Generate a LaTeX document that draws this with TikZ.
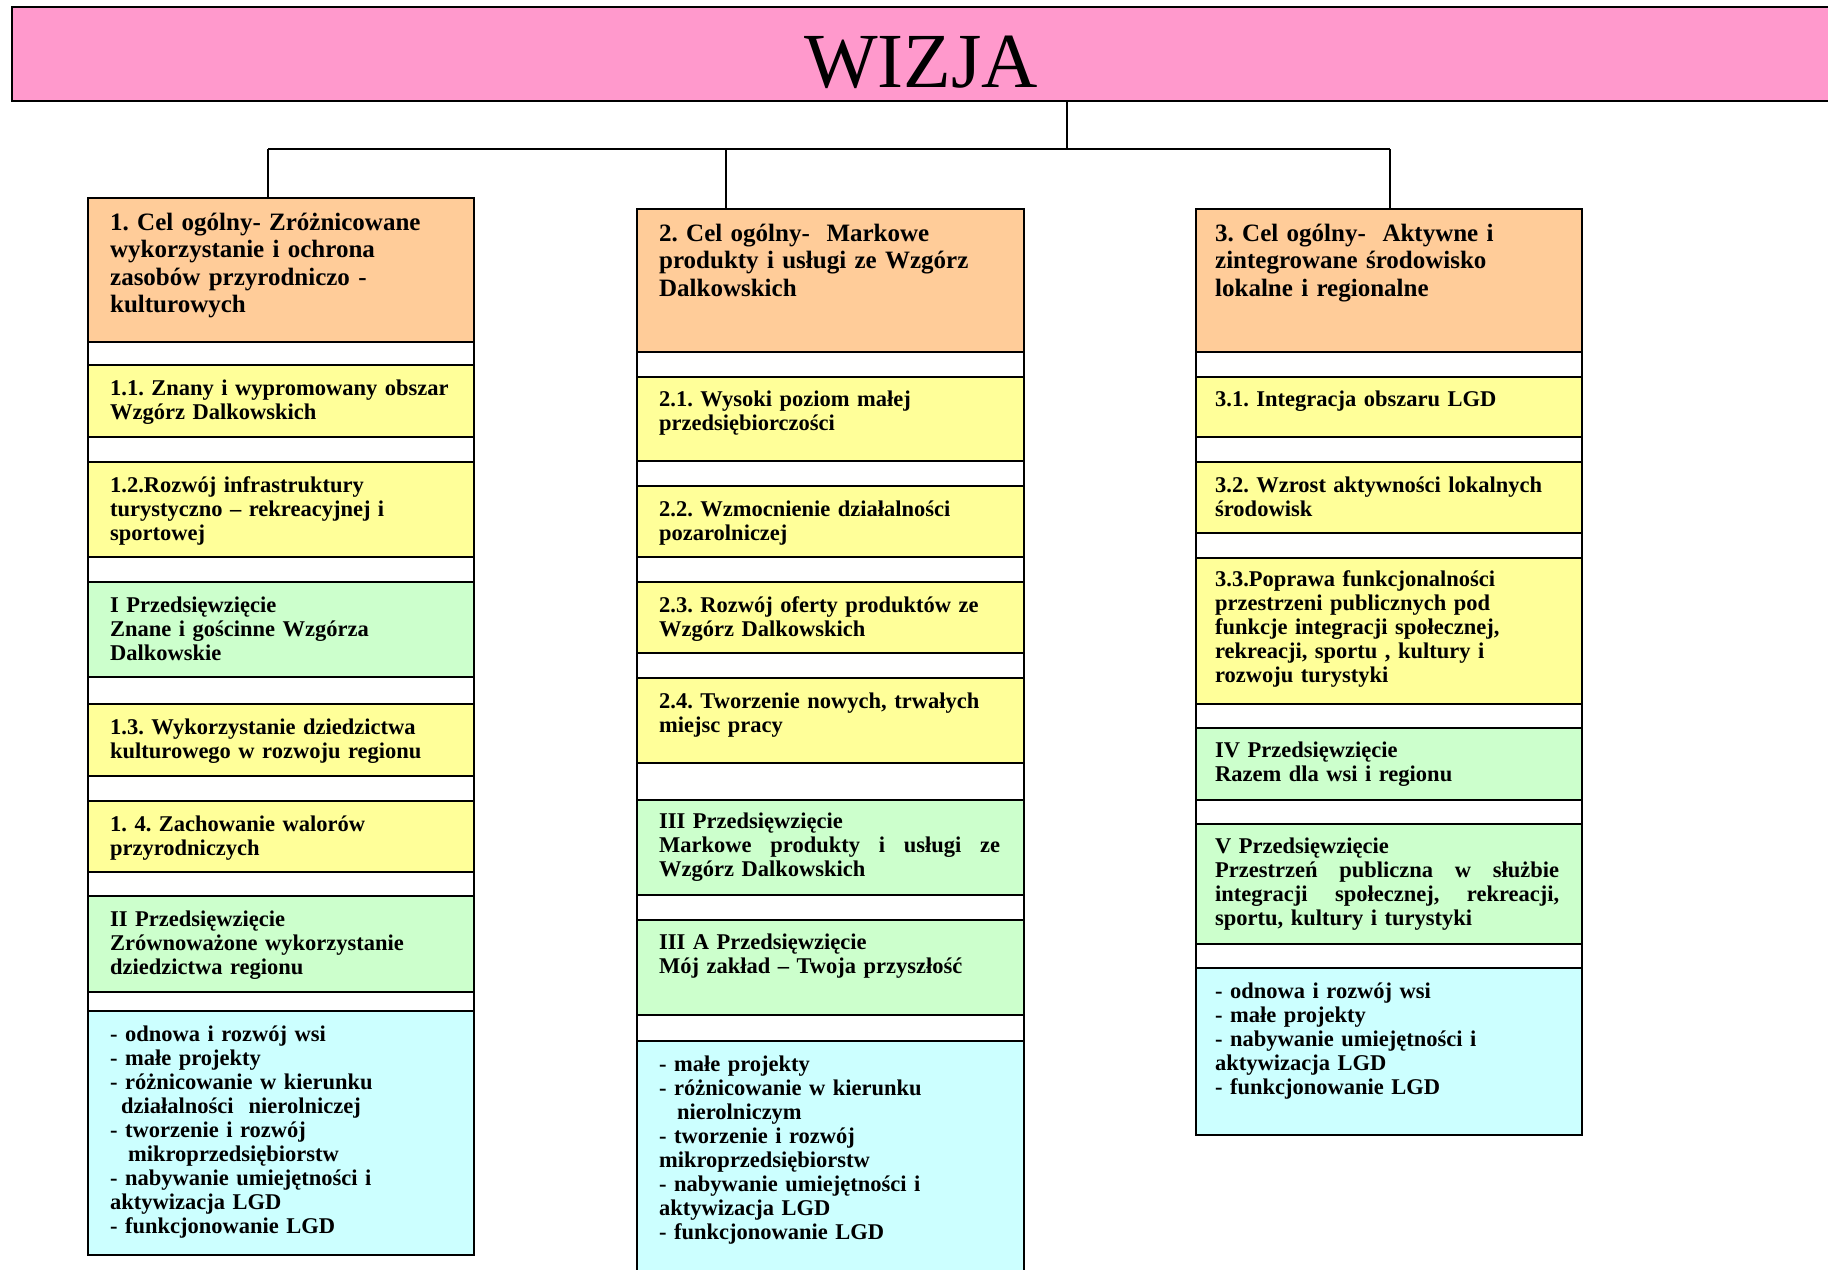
\documentclass[tikz,border=0pt]{standalone}
\usepackage{fontspec}
\setmainfont{Liberation Serif}
\usetikzlibrary{fit,calc}
\definecolor{pinkc}{HTML}{FF99CC}
\definecolor{orangec}{HTML}{FFCC99}
\definecolor{yellowc}{HTML}{FFFF99}
\definecolor{greenc}{HTML}{CCFFCC}
\definecolor{cyanc}{HTML}{CCFFFF}
\newcommand\hdfont{\fontsize{12.5}{13.7}\selectfont\bfseries\frenchspacing}
\newcommand\subfont{\fontsize{11.25}{12}\selectfont\bfseries\frenchspacing}
\newcommand\jline[2]{\makebox[#1][l]{#2}}
\begin{document}
\begin{tikzpicture}[x=0.5pt,y=-0.5pt,
  frame/.style={draw, line width=1.25pt, inner sep=0pt, fill=white},
  bx/.style={draw, line width=1.25pt, inner sep=0pt},
  conn/.style={line width=1.1pt},
  txt/.style={anchor=base west, inner sep=0pt, text width=190pt, align=left, font=\subfont},
  hdt/.style={txt, font=\hdfont}]

\useasboundingbox (0,0) rectangle (1828,1270);

% vision
\node[bx, fill=pinkc, fit={(12,7) (1850,101)}] (wizja) {};
\node[anchor=base, inner sep=0pt, font=\fontsize{39}{39}\selectfont] (wizjat) at (921,87) {WIZJA};

% column frames
\node[frame, fit={(88,198) (474,1255)}] (col1) {};
\node[frame, fit={(637,209) (1024,1300)}] (col2) {};
\node[frame, fit={(1196,209) (1582,1135)}] (col3) {};

% connectors
\coordinate (bus) at (1067,149);
\coordinate (bus1) at (268,149);
\coordinate (bus2) at (726,149);
\coordinate (bus3) at (1390,149);
\draw[conn] (wizja.south -| bus) -- (bus);
\draw[conn] (bus1) -- (bus3);
\draw[conn] (bus1) -- (bus1 |- col1.north);
\draw[conn] (bus2) -- (bus2 |- col2.north);
\draw[conn] (bus3) -- (bus3 |- col3.north);

% ---------- column 1 ----------
\node[bx, fill=orangec, fit={(88,198) (474,342)}] (h1) {};
\node[bx, fill=yellowc, fit={(88,365) (474,437)}] (b11) {};
\node[bx, fill=yellowc, fit={(88,462) (474,557)}] (b12) {};
\node[bx, fill=greenc,  fit={(88,582) (474,677)}] (bI) {};
\node[bx, fill=yellowc, fit={(88,704) (474,776)}] (b13) {};
\node[bx, fill=yellowc, fit={(88,801) (474,872)}] (b14) {};
\node[bx, fill=greenc,  fit={(88,896) (474,992)}] (bII) {};
\node[bx, fill=cyanc,   fit={(88,1011) (474,1255)}] (c1) {};

\node[hdt] (h1t) at ([xshift=11.5pt,yshift=-16.75pt]h1.north west)
  {1. Cel ogólny- Zróżnicowane\\wykorzystanie i ochrona\\zasobów przyrodniczo -\\kulturowych};
\node[txt] (b11t) at ([xshift=11.5pt,yshift=-16pt]b11.north west)
  {1.1. Znany i wypromowany obszar\\Wzgórz Dalkowskich};
\node[txt] (b12t) at ([xshift=11.5pt,yshift=-16pt]b12.north west)
  {1.2.Rozwój infrastruktury\\turystyczno – rekreacyjnej i\\sportowej};
\node[txt] (bIt) at ([xshift=11.5pt,yshift=-16pt]bI.north west)
  {I Przedsięwzięcie\\Znane i gościnne Wzgórza\\Dalkowskie};
\node[txt] (b13t) at ([xshift=11.5pt,yshift=-16pt]b13.north west)
  {1.3. Wykorzystanie dziedzictwa\\kulturowego w rozwoju regionu};
\node[txt] (b14t) at ([xshift=11.5pt,yshift=-16pt]b14.north west)
  {1. 4. Zachowanie walorów\\przyrodniczych};
\node[txt] (bIIt) at ([xshift=11.5pt,yshift=-16pt]bII.north west)
  {II Przedsięwzięcie\\Zrównoważone wykorzystanie\\dziedzictwa regionu};
\node[txt] (c1t) at ([xshift=11.5pt,yshift=-16pt]c1.north west)
  {- odnowa i rozwój wsi\\- małe projekty\\- różnicowanie w kierunku\\\hspace*{5.5pt}działalności\ \ nierolniczej\\- tworzenie i rozwój\\\hspace*{9pt}mikroprzedsiębiorstw\\- nabywanie umiejętności i\\aktywizacja LGD\\- funkcjonowanie LGD};

% ---------- column 2 ----------
\node[bx, fill=orangec, fit={(637,209) (1024,352)}] (h2) {};
\node[bx, fill=yellowc, fit={(637,377) (1024,461)}] (b21) {};
\node[bx, fill=yellowc, fit={(637,486) (1024,557)}] (b22) {};
\node[bx, fill=yellowc, fit={(637,582) (1024,653)}] (b23) {};
\node[bx, fill=yellowc, fit={(637,678) (1024,763)}] (b24) {};
\node[bx, fill=greenc,  fit={(637,800) (1024,895)}] (bIII) {};
\node[bx, fill=greenc,  fit={(637,920) (1024,1015)}] (bIIIA) {};
\node[bx, fill=cyanc,   fit={(637,1041) (1024,1300)}] (c2) {};

\node[hdt] (h2t) at ([xshift=11.5pt,yshift=-16.75pt]h2.north west)
  {2. Cel ogólny-\ \ Markowe\\produkty i usługi ze Wzgórz\\Dalkowskich};
\node[txt] (b21t) at ([xshift=11.5pt,yshift=-15.5pt]b21.north west)
  {2.1. Wysoki poziom małej\\przedsiębiorczości};
\node[txt] (b22t) at ([xshift=11.5pt,yshift=-16pt]b22.north west)
  {2.2. Wzmocnienie działalności\\pozarolniczej};
\node[txt] (b23t) at ([xshift=11.5pt,yshift=-16pt]b23.north west)
  {2.3. Rozwój oferty produktów ze\\Wzgórz Dalkowskich};
\node[txt] (b24t) at ([xshift=11.5pt,yshift=-16pt]b24.north west)
  {2.4. Tworzenie nowych, trwałych\\miejsc pracy};
\node[txt] (bIIIt) at ([xshift=11.5pt,yshift=-15pt]bIII.north west)
  {III Przedsięwzięcie\\\jline{170.5pt}{Markowe\hfill produkty\hfill i\hfill usługi\hfill ze}\\Wzgórz Dalkowskich};
\node[txt] (bIIIAt) at ([xshift=11.5pt,yshift=-15.5pt]bIIIA.north west)
  {III A Przedsięwzięcie\\Mój zakład – Twoja przyszłość};
\node[txt] (c2t) at ([xshift=11.5pt,yshift=-16pt]c2.north west)
  {- małe projekty\\- różnicowanie w kierunku\\\hspace*{9pt}nierolniczym\\- tworzenie i rozwój\\mikroprzedsiębiorstw\\- nabywanie umiejętności i\\aktywizacja LGD\\- funkcjonowanie LGD};

% ---------- column 3 ----------
\node[bx, fill=orangec, fit={(1196,209) (1582,352)}] (h3) {};
\node[bx, fill=yellowc, fit={(1196,377) (1582,437)}] (b31) {};
\node[bx, fill=yellowc, fit={(1196,462) (1582,533)}] (b32) {};
\node[bx, fill=yellowc, fit={(1196,558) (1582,704)}] (b33) {};
\node[bx, fill=greenc,  fit={(1196,728) (1582,800)}] (bIV) {};
\node[bx, fill=greenc,  fit={(1196,824) (1582,944)}] (bV) {};
\node[bx, fill=cyanc,   fit={(1196,968) (1582,1135)}] (c3) {};

\node[hdt] (h3t) at ([xshift=10pt,yshift=-16.75pt]h3.north west)
  {3. Cel ogólny-\ \ Aktywne i\\zintegrowane środowisko\\lokalne i regionalne};
\node[txt] (b31t) at ([xshift=10pt,yshift=-15.5pt]b31.north west)
  {3.1. Integracja obszaru LGD};
\node[txt] (b32t) at ([xshift=10pt,yshift=-16pt]b32.north west)
  {3.2. Wzrost aktywności lokalnych\\środowisk};
\node[txt] (b33t) at ([xshift=10pt,yshift=-15pt]b33.north west)
  {3.3.Poprawa funkcjonalności\\przestrzeni publicznych pod\\funkcje integracji społecznej,\\rekreacji, sportu , kultury i\\rozwoju turystyki};
\node[txt] (bIVt) at ([xshift=10pt,yshift=-15.5pt]bIV.north west)
  {IV Przedsięwzięcie\\Razem dla wsi i regionu};
\node[txt] (bVt) at ([xshift=10pt,yshift=-15.5pt]bV.north west)
  {V Przedsięwzięcie\\\jline{172pt}{Przestrzeń\hfill publiczna\hfill w\hfill służbie}\\\jline{172pt}{integracji\hfill społecznej,\hfill rekreacji,}\\sportu, kultury i turystyki};
\node[txt] (c3t) at ([xshift=10pt,yshift=-16pt]c3.north west)
  {- odnowa i rozwój wsi\\- małe projekty\\- nabywanie umiejętności i\\aktywizacja LGD\\- funkcjonowanie LGD};

\end{tikzpicture}
\end{document}
